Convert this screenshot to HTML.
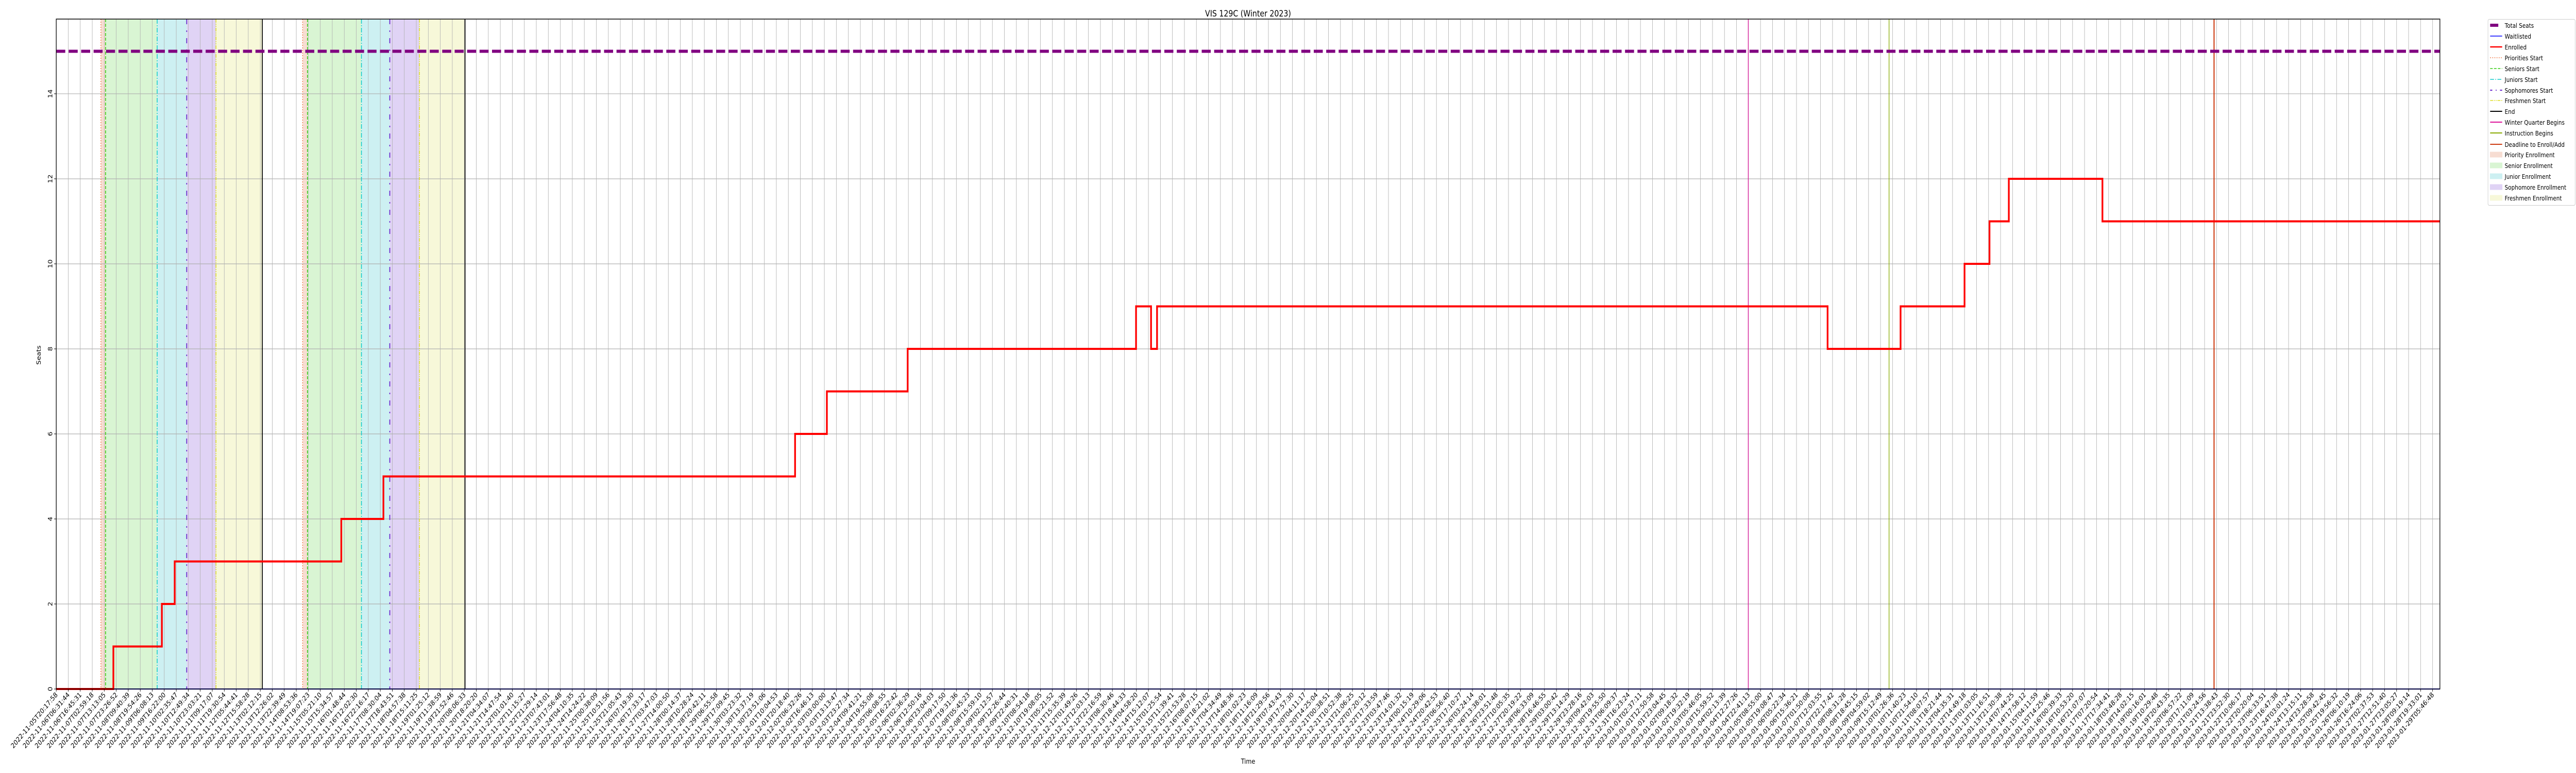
<!DOCTYPE html>
<html><head><meta charset="utf-8"><style>
html,body{margin:0;padding:0;background:#fff;overflow:hidden;width:100%;height:100%;}
svg{display:block;width:100vw;height:100vh;font-family:"DejaVu Sans","Liberation Sans",sans-serif;}
</style></head>
<body>
<svg id="chart" viewBox="0 0 6000 1500" preserveAspectRatio="none" xmlns="http://www.w3.org/2000/svg">
<text x="2907" y="32" text-anchor="middle" font-size="17">VIS 129C (Winter 2023)</text>
<text x="2907" y="1482" text-anchor="middle" font-size="13.5">Time</text>
<text transform="translate(95,689) rotate(-90)" text-anchor="middle" font-size="13.5">Seats</text>
<g id="spans"></g>
<g id="grid"></g>
<g id="vlines"></g>
<g id="series"></g>
<g id="axes"></g>
<g id="legend"></g>
</svg>
<script>
// ---- data ----
const tickCount = 199;
const tickStart = "2022-11-05T20:17:58";
const tickEnd = "2023-01-29T05:46:48";
const yTicks = [0,2,4,6,8,10,12,14];
const totalSeats = 15;
// enrolled step function: change points in tick-index units
const enrolledX = [0, 4.76, 8.80, 9.87, 23.75, 27.26, 61.56, 64.21, 70.94, 89.97, 91.22, 91.72, 147.59, 153.67, 159.0, 161.08, 162.69, 170.49];
const enrolledY = [0, 1, 2, 3, 4, 5, 6, 7, 8, 9, 8, 9, 8, 9, 10, 11, 12, 11];
const waitlistedX = [0];
const waitlistedY = [0];
// enrollment rounds: [priorities, seniors, juniors, sophomores, freshmen, end]
const round1 = [3.72, 4.11, 8.41, 10.87, 13.31, 17.17];
const round2 = [20.53, 20.93, 25.43, 27.79, 30.26, 34.06];
const winterBegins = 140.98;
const instructionBegins = 152.71;
const deadline = 179.79;

// ---- scales ----
const L = 131, R = 5683, T = 37, B = 1337;
const tickStep = (5666 - L) / (tickCount - 1);
const xMax = (R - L) / tickStep;
const yMax = 15.757;
function xs(i){ return L + i * tickStep; }
function ys(v){ return B - v / yMax * (B - T); }
const NS = "http://www.w3.org/2000/svg";
function mk(tag, attrs, parent){
  const e = document.createElementNS(NS, tag);
  for (const k in attrs) e.setAttribute(k, attrs[k]);
  parent.appendChild(e); return e;
}
const g = id => document.getElementById(id);

// spans
const spanColors = ["#f7ddd2", "#d9f5d3", "#cdf0f2", "#e0d3f5", "#f7f8d9"];
const spanNames = ["priority-enrollment-span", "senior-enrollment-span", "junior-enrollment-span", "sophomore-enrollment-span", "freshmen-enrollment-span"];
[round1, round2].forEach((r, ri) => {
  for (let k = 0; k < 5; k++) {
    const rc = mk("rect", {x: xs(r[k]), y: T, width: xs(r[k+1]) - xs(r[k]), height: B - T, fill: spanColors[k]}, g("spans"));
    
    
  }
});

// grid
for (let i = 0; i < tickCount; i++) {
  const ln = mk("line", {x1: xs(i), x2: xs(i), y1: T, y2: B, stroke: "#b0b0b0", "stroke-width": 1}, g("grid"));
  
  
}
yTicks.forEach(v => {
  const ln = mk("line", {x1: L, x2: R, y1: ys(v), y2: ys(v), stroke: "#b0b0b0", "stroke-width": 1.2}, g("grid"));
  
  
});

// event lines
const lineStyles = [
  {c: "#f0703a", d: "2,3", w: 1.5, n: "priorities-start-line"},
  {c: "#33cc11", d: "6,3", w: 1.8, n: "seniors-start-line"},
  {c: "#11cccc", d: "9,3,2,3", w: 1.8, n: "juniors-start-line"},
  {c: "#6622cc", d: "10,12,3,12", w: 2, n: "sophomores-start-line"},
  {c: "#dddd22", d: "7,2,2,2,2,2", w: 1.8, n: "freshmen-start-line"},
  {c: "#000000", d: "", w: 2, n: "end-line"}
];
[round1, round2].forEach(r => {
  r.forEach((v, k) => {
    const s = lineStyles[k];
    const a = {x1: xs(v), x2: xs(v), y1: T, y2: B, stroke: s.c, "stroke-width": s.w};
    if (s.d) a["stroke-dasharray"] = s.d;
    const ln = mk("line", a, g("vlines"));
    
    
  });
});
[[winterBegins, "#dd1199", 1.5, "winter-quarter-begins-line"], [instructionBegins, "#88aa00", 1.5, "instruction-begins-line"], [deadline, "#cc3a10", 2.5, "deadline-line"]].forEach(d => {
  const ln = mk("line", {x1: xs(d[0]), x2: xs(d[0]), y1: T, y2: B, stroke: d[1], "stroke-width": d[2]}, g("vlines"));
  
  
});

// series
const ts = mk("line", {x1: L, x2: R, y1: ys(totalSeats), y2: ys(totalSeats), stroke: "#800080", "stroke-width": 6, "stroke-dasharray": "21,8"}, g("series"));


function stepPath(X, Y){
  let d = "M" + xs(X[0]) + "," + ys(Y[0]);
  for (let i = 1; i < X.length; i++) d += " H" + xs(X[i]) + " V" + ys(Y[i]);
  d += " H" + xs(xMax);
  return d;
}
const wl = mk("path", {d: stepPath(waitlistedX, waitlistedY), fill: "none", stroke: "#0000ff", "stroke-width": 2}, g("series"));


const en = mk("path", {d: stepPath(enrolledX, enrolledY), fill: "none", stroke: "#ff0000", "stroke-width": 4}, g("series"));



// axes
const fr = mk("rect", {x: L, y: T, width: R - L, height: B - T, fill: "none", stroke: "#000", "stroke-width": 1.5}, g("axes"));


const t0 = Date.parse(tickStart + "Z"), t1 = Date.parse(tickEnd + "Z");
for (let i = 0; i < tickCount; i++) {
  const x = xs(i);
  const tk = mk("line", {x1: x, x2: x, y1: B, y2: B + 5, stroke: "#000", "stroke-width": 1}, g("axes"));
  
  
  const lab = new Date(t0 + (t1 - t0) * i / (tickCount - 1)).toISOString().slice(0, 19);
  const tx = mk("text", {transform: "translate(" + (x + 4) + "," + (B + 12) + ") rotate(-45)", "text-anchor": "end", "font-size": 13.5}, g("axes"));
  
  
  tx.textContent = lab;
}
yTicks.forEach(v => {
  const tk = mk("line", {x1: L - 5, x2: L, y1: ys(v), y2: ys(v), stroke: "#000", "stroke-width": 1}, g("axes"));
  
  
  const tx = mk("text", {transform: "translate(" + (L - 9) + "," + ys(v) + ") rotate(-90)", "text-anchor": "middle", "font-size": 13.5}, g("axes"));
  
  
  tx.textContent = v;
});

// legend
const legendLabels = ["Total Seats","Waitlisted","Enrolled","Priorities Start","Seniors Start","Juniors Start","Sophomores Start","Freshmen Start","End","Winter Quarter Begins","Instruction Begins","Deadline to Enroll/Add","Priority Enrollment","Senior Enrollment","Junior Enrollment","Sophomore Enrollment","Freshmen Enrollment"];
const lb = mk("rect", {x: 5795, y: 37.5, width: 203, height: 361, rx: 3, fill: "#fff", "fill-opacity": 0.8, stroke: "#cccccc", "stroke-width": 1}, g("legend"));


const handles = [
  {c: "#800080", w: 6, d: "", x2: 5819},
  {c: "#0000ff", w: 1.5, d: ""},
  {c: "#ff0000", w: 2.5, d: ""},
  {c: "#f0703a", w: 1.5, d: "2,3"},
  {c: "#33cc11", w: 1.5, d: "6,3"},
  {c: "#11cccc", w: 1.5, d: "9,3,2,3"},
  {c: "#6622cc", w: 2, d: "5,8,2,8"},
  {c: "#dddd22", w: 1.5, d: "7,2,2,2,2,2"},
  {c: "#000000", w: 2, d: ""},
  {c: "#dd1199", w: 2, d: ""},
  {c: "#88aa00", w: 2, d: ""},
  {c: "#cc3a10", w: 2, d: ""}
];
const rowY = [49,70,91,112,133,154,175,195,216,237,258,280,300,321,342,363,384];
legendLabels.forEach((lab, i) => {
  const y = rowY[i];
  if (i < handles.length) {
    const h = handles[i];
    const a = {x1: 5800, x2: h.x2 || 5828, y1: y, y2: y, stroke: h.c, "stroke-width": h.w};
    if (h.d) a["stroke-dasharray"] = h.d;
    const hl = mk("line", a, g("legend"));
    
    
  } else {
    const hr = mk("rect", {x: 5800, y: y - 5, width: 28, height: 10, fill: spanColors[i - handles.length], stroke: spanColors[i - handles.length]}, g("legend"));
    
    
  }
  const tx = mk("text", {x: 5834, y: y + 5, "font-size": 12.5}, g("legend"));
  
  
  tx.textContent = lab;
});
</script>
</body></html>
